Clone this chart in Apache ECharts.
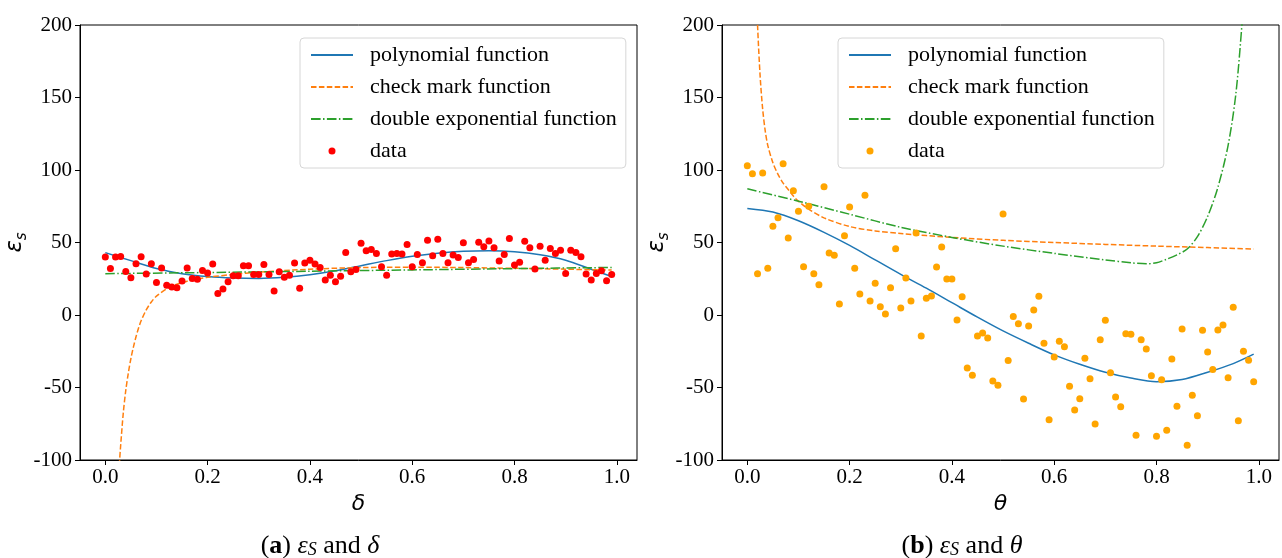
<!DOCTYPE html>
<html>
<head>
<meta charset="utf-8">
<script src="https://cdn.jsdelivr.net/npm/echarts@6/dist/echarts.min.js"></script>
<style>
html,body{margin:0;padding:0;background:#fff;}
#chart{width:1282px;height:558px;}
</style>
</head>
<body>
<div id="chart"></div>
<script>
// ---------- data ----------
const xSamples = [0.00,0.01,0.02,0.03,0.04,0.05,0.06,0.07,0.08,0.09,
  0.10,0.11,0.12,0.13,0.14,0.15,0.16,0.17,0.18,0.19,
  0.20,0.21,0.22,0.23,0.24,0.25,0.26,0.27,0.28,0.29,
  0.30,0.31,0.32,0.33,0.34,0.35,0.36,0.37,0.38,0.39,
  0.40,0.41,0.42,0.43,0.44,0.45,0.46,0.47,0.48,0.49,
  0.50,0.51,0.52,0.53,0.54,0.55,0.56,0.57,0.58,0.59,
  0.60,0.61,0.62,0.63,0.64,0.65,0.66,0.67,0.68,0.69,
  0.70,0.71,0.72,0.73,0.74,0.75,0.76,0.77,0.78,0.79,
  0.80,0.81,0.82,0.83,0.84,0.85,0.86,0.87,0.88,0.89,
  0.90,0.91,0.92,0.93,0.94,0.95,0.96,0.97,0.98,0.99];

const deltaData = [40,32,40,40.4,30,25.7,35.3,40.1,28.2,35.3,
  22.5,32.5,20.6,19.3,18.8,23.4,32.5,25.2,24.6,30.7,
  29,35.1,14.9,17.9,22.9,27,27,33.9,33.9,28,
  28,34.9,28,16.5,29.8,26.1,27.5,35.8,18.4,35.8,
  37.8,35.1,32.8,24.1,27.5,22.9,26.8,43.1,29.8,31.4,
  49.5,44.3,45.2,42.5,33.3,27.5,42,42.5,42,48.6,
  33.3,41.8,36,51.6,40.8,52.3,42.5,36,41.3,39.7,
  49.8,36,38.3,50.2,47,51.1,46.3,37.2,41.8,52.8,
  34.4,36.3,50.9,46.3,31.7,47.5,37.8,45.9,42.5,44.7,
  28.7,44.7,43.1,40.1,28.2,24.1,28.7,30.5,23.6,28];

const thetaData = [103,97.4,28.5,97.9,32.2,61.2,67.1,104.3,53.1,85.7,
  71.5,33.3,75,28.5,20.9,88.5,42.8,41.2,7.6,54.7,
  74.5,32.2,14.5,82.6,9.7,21.9,5.7,0.7,18.8,45.7,
  4.8,25.5,9.7,56.6,-14.5,11.5,13.1,33.1,46.9,24.8,
  24.8,-3.4,12.6,-36.6,-41.6,-14.5,-12.4,-15.9,-45.5,-48.5,
  69.7,-31.3,-1.1,-6,-58,-7.6,3.4,12.9,-19.5,-72.2,
  -29,-18.1,-21.9,-49.2,-65.5,-57.7,-29.9,-43.9,-75.2,-17,
  -3.7,-39.8,-56.6,-63.2,-12.9,-13.3,-83,-17,-23.4,-41.9,
  -83.7,-44.6,-79.5,-30.3,-63,-9.7,-89.9,-55.4,-69.4,-10.6,
  -25.5,-37.5,-10.3,-6.9,-43.2,5.3,-72.9,-25,-31.2,-46];

// fitted curves (x, y)
const curveX = [0,0.05,0.1,0.15,0.2,0.25,0.3,0.35,0.4,0.45,0.5,0.55,0.6,0.65,0.7,0.75,0.8,0.85,0.9,0.95,0.99];
const polyDelta = [43,37.5,32,28.5,26.5,25.5,25.2,26,27.8,30.5,34,37.5,40.5,42.6,43.9,44.3,43.6,41.5,37.8,31.5,26.5];
const polyTheta = [73.5,71,65,57,48,38,28,18.5,8.5,-1.5,-11,-19.5,-27.5,-34,-39.5,-43.5,-46,-44.5,-39.5,-33.5,-27];

const checkDeltaX = [0.025,0.028,0.03,0.035,0.04,0.045,0.05,0.055,0.06,0.065,0.07,0.08,0.09,0.1,0.12,0.14,0.16,0.18,0.2,0.25,0.3,0.4,0.5,0.6,0.7,0.8,0.9,0.99];
const checkDelta = [-120,-100,-90,-68,-52,-40,-30,-22,-15,-9,-4,3.5,9,13,18,21.2,23.3,24.8,26,28,29.5,31.6,32.7,33,32.7,32.2,31.6,31];

const checkThetaX = [0.015,0.018,0.02,0.025,0.03,0.035,0.04,0.05,0.06,0.07,0.08,0.09,0.1,0.12,0.15,0.2,0.25,0.3,0.4,0.5,0.6,0.7,0.8,0.9,0.99];
const checkTheta = [260,222,200,165,142,127,117,105,97,91,86.5,82,78.5,73,67,61,58,56.2,53.5,51.5,50,48.7,47.5,46.5,45.5];

const dexpDeltaX = [0,0.2,0.4,0.6,0.8,0.99];
const dexpDelta = [28.5,29.3,30.2,31.1,32,32.8];

const dexpThetaX = [0,0.1,0.2,0.3,0.4,0.5,0.6,0.7,0.75,0.78,0.8,0.82,0.84,0.86,0.88,0.9,0.92,0.94,0.955,0.967,0.975];
const dexpTheta = [87,78.5,69.5,60.5,53.5,47.5,42.5,38,36,35.3,36,38.5,41.5,45.5,54,68,88,117,152,200,240];

const xTicks = [0,0.2,0.4,0.6,0.8,1.0];
const seriesNames = ['polynomial function','check mark function','double exponential function','data'];
const captionA = '({b|a}) {g|ε}{sub|S} and {g|δ}';
const captionB = '({b|b}) {g|ε}{sub|S} and {g|θ}';

// ---------- chart ----------
const SERIF = 'Liberation Serif';
const MATH = 'DejaVu Sans';
const pair = (xs, ys) => xs.map((x, i) => [x, ys[i]]);

function xAxisFor(gi, label) {
  return {
    gridIndex: gi, type: 'value', min: -0.0495, max: 1.0395,
    axisLine: { onZero: false, lineStyle: { color: '#000', width: 1 } },
    axisTick: { customValues: xTicks, length: 5, lineStyle: { color: '#000' } },
    axisLabel: { customValues: xTicks, formatter: v => v.toFixed(1), fontFamily: SERIF, fontSize: 21, color: '#000', margin: 7 },
    splitLine: { show: false },
    name: label, nameLocation: 'middle', nameGap: 25,
    nameTextStyle: { fontFamily: MATH, fontStyle: 'italic', fontSize: 22, color: '#000' }
  };
}
function yAxisFor(gi) {
  return {
    gridIndex: gi, type: 'value', min: -100, max: 200, interval: 50,
    axisLine: { show: true, onZero: false, lineStyle: { color: '#000', width: 1 } },
    axisTick: { show: true, length: 5, lineStyle: { color: '#000' } },
    axisLabel: { formatter: v => String(v), fontFamily: SERIF, fontSize: 21, color: '#000', margin: 8 },
    splitLine: { show: false },
    name: '{e|ε}{s|s}', nameLocation: 'middle', nameRotate: 90, nameGap: 44,
    nameTextStyle: {
      color: '#000',
      rich: {
        e: { fontFamily: MATH, fontStyle: 'italic', fontSize: 23, lineHeight: 30, verticalAlign: 'middle', color: '#000' },
        s: { fontFamily: MATH, fontStyle: 'italic', fontSize: 15, lineHeight: 14, verticalAlign: 'bottom', color: '#000' }
      }
    }
  };
}
function legendFor(left, dotColor) {
  const hide = { opacity: 0, color: 'rgba(0,0,0,0)', borderWidth: 0 };
  return {
    orient: 'vertical', left: left, top: 38,
    data: [
      { name: seriesNames[0], itemStyle: hide },
      { name: seriesNames[1], itemStyle: hide },
      { name: seriesNames[2], itemStyle: hide },
      { name: seriesNames[3], icon: 'circle', itemStyle: { color: dotColor } }
    ],
    itemWidth: 42, itemHeight: 7, itemGap: 10,
    padding: [6, 9, 6, 10],
    borderColor: '#d6d6d6', borderWidth: 1, borderRadius: 4, backgroundColor: '#fff',
    selectedMode: false,
    textStyle: { fontFamily: SERIF, fontSize: 22, color: '#000', padding: [0, 0, 0, 12] }
  };
}
function lineSeries(name, gi, data, color, type) {
  return {
    name: name, type: 'line', xAxisIndex: gi, yAxisIndex: gi, data: data,
    symbol: 'none', showSymbol: false, smooth: 0.3, clip: true,
    lineStyle: { color: color, width: 1.5, type: type }, itemStyle: { color: color },
    animation: false, z: 3
  };
}
function dotSeries(gi, data, color) {
  return {
    name: seriesNames[3], type: 'scatter', xAxisIndex: gi, yAxisIndex: gi, data: data,
    symbol: 'circle', symbolSize: 7, itemStyle: { color: color, opacity: 1 }, animation: false, z: 4
  };
}
function caption(x, text) {
  return {
    type: 'text', x: x, y: 546,
    style: {
      text: text, align: 'center', verticalAlign: 'middle', fontFamily: SERIF, fontSize: 26, fill: '#000',
      rich: {
        b: { fontFamily: SERIF, fontWeight: 'bold', fontSize: 26 },
        g: { fontFamily: SERIF, fontStyle: 'italic', fontSize: 26 },
        sub: { fontFamily: SERIF, fontStyle: 'italic', fontSize: 18, verticalAlign: 'bottom', lineHeight: 14 }
      }
    }
  };
}

const chart = echarts.init(document.getElementById('chart'), null, { renderer: 'canvas' });
chart.setOption({
  backgroundColor: '#fff',
  animation: false,
  grid: [
    { left: 80, width: 557, top: 25, height: 435, show: true, borderColor: '#000', borderWidth: 1, containLabel: false },
    { left: 722, width: 557, top: 25, height: 435, show: true, borderColor: '#000', borderWidth: 1, containLabel: false }
  ],
  xAxis: [xAxisFor(0, 'δ'), xAxisFor(1, 'θ')],
  yAxis: [yAxisFor(0), yAxisFor(1)],
  legend: [legendFor(300, '#ff0000'), legendFor(838, '#ffa500')],
  series: [
    lineSeries(seriesNames[0], 0, pair(curveX, polyDelta), '#1f77b4', 'solid'),
    lineSeries(seriesNames[1], 0, pair(checkDeltaX, checkDelta), '#ff7f0e', [5.5, 2.4]),
    lineSeries(seriesNames[2], 0, pair(dexpDeltaX, dexpDelta), '#2ca02c', [9.6, 2.4, 1.5, 2.4]),
    dotSeries(0, pair(xSamples, deltaData), '#ff0000'),
    lineSeries(seriesNames[0], 1, pair(curveX, polyTheta), '#1f77b4', 'solid'),
    lineSeries(seriesNames[1], 1, pair(checkThetaX, checkTheta), '#ff7f0e', [5.5, 2.4]),
    lineSeries(seriesNames[2], 1, pair(dexpThetaX, dexpTheta), '#2ca02c', [9.6, 2.4, 1.5, 2.4]),
    dotSeries(1, pair(xSamples, thetaData), '#ffa500')
  ],
  graphic: [caption(320, captionA), caption(962, captionB)]
});
</script>
</body>
</html>
